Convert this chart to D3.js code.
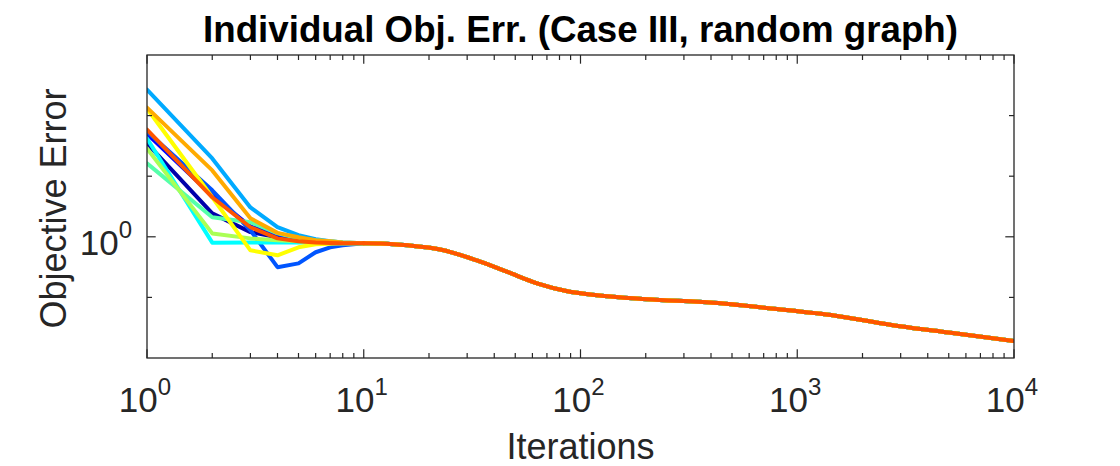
<!DOCTYPE html>
<html>
<head>
<meta charset="utf-8">
<script src="https://cdn.jsdelivr.net/npm/d3@7"></script>
<style>
  html, body { margin: 0; padding: 0; background: #fff; }
  svg { display: block; font-family: "Liberation Sans", Arial, Helvetica, sans-serif; }
</style>
</head>
<body>
<div id="chart"></div>
<script>
// Iterations where the agents still differ, then the shared tail
const headIters = [1, 2, 3, 4, 5, 6, 7, 8, 10];
const tailIters = [10, 12, 16, 22.5, 33, 46, 63, 86, 119, 202, 410, 804, 1500, 2980, 5000, 10000];
const tailErr   = [0.976, 0.975, 0.968, 0.953, 0.915, 0.875, 0.838, 0.814, 0.801, 0.789, 0.778, 0.760, 0.741, 0.712, 0.695, 0.673];

// Per-agent objective error for the first iterations (jet colormap order)
const agent1  = [1.426, 1.093, 1.018, 0.998, 0.987, 0.982, 0.979, 0.977, 0.976];
const agent2  = [1.480, 1.170, 1.040, 1.006, 0.991, 0.982, 0.979, 0.977, 0.976];
const agent3  = [1.492, 1.193, 1.025, 0.891, 0.904, 0.943, 0.961, 0.968, 0.976];
const agent4  = [1.750, 1.347, 1.118, 1.037, 1.006, 0.991, 0.983, 0.979, 0.976];
const agent5  = [1.453, 0.978, 0.979, 0.979, 0.979, 0.979, 0.977, 0.976, 0.976];
const agent6  = [1.322, 1.077, 1.057, 1.013, 0.994, 0.987, 0.983, 0.979, 0.976];
const agent7  = [1.399, 1.013, 0.994, 0.987, 0.983, 0.979, 0.979, 0.976, 0.976];
const agent8  = [1.628, 1.162, 0.950, 0.932, 0.961, 0.972, 0.974, 0.976, 0.976];
const agent9  = [1.634, 1.287, 1.073, 1.015, 0.998, 0.987, 0.983, 0.979, 0.976];
const agent10 = [1.503, 1.162, 1.037, 0.994, 0.983, 0.979, 0.977, 0.976, 0.976];
const agents = [agent1, agent2, agent3, agent4, agent5, agent6, agent7, agent8, agent9, agent10];

const xTickExps = [0, 1, 2, 3, 4];
const yTickExps = [0];
const yMinorExps = [-0.1, 0.1, 0.2];

const palette = ["#0000aa", "#0000ff", "#0055ff", "#00aaff", "#00ffff",
                 "#55ffaa", "#aaff55", "#ffff00", "#ffaa00", "#ff5500"];

const W = 1120, H = 466;
const pLeft = 147, pRight = 1014, pTop = 55, pBottom = 358;
const ink = "#262626";

const svg = d3.select("#chart").append("svg")
    .attr("width", W).attr("height", H);

const x = d3.scaleLog().domain([1, 1e4]).range([pLeft, pRight]);
const y = d3.scaleLog().domain([Math.pow(10, -0.2), Math.pow(10, 0.3)]).range([pBottom, pTop]);

svg.append("defs").append("clipPath").attr("id", "plot-clip")
    .append("rect").attr("x", pLeft).attr("y", pTop)
    .attr("width", pRight - pLeft).attr("height", pBottom - pTop);

// Lines: straight segments between early iterations, smooth tail afterwards
const headLine = d3.line().x(d => x(d[0])).y(d => y(d[1]));
const tailLine = d3.line().x(d => x(d[0])).y(d => y(d[1])).curve(d3.curveMonotoneX);
const tailPts = tailIters.map((it, k) => [it, tailErr[k]]);

const lineG = svg.append("g").attr("clip-path", "url(#plot-clip)")
    .attr("fill", "none").attr("stroke-width", 4)
    .attr("stroke-linejoin", "round").attr("stroke-linecap", "round");
agents.forEach((vals, i) => {
    const pts = headIters.map((it, k) => [it, vals[k]]);
    lineG.append("path").attr("d", headLine(pts)).attr("stroke", palette[i]);
    lineG.append("path").attr("d", tailLine(tailPts)).attr("stroke", palette[i]);
});

// Box
svg.append("rect")
    .attr("x", pLeft).attr("y", pTop)
    .attr("width", pRight - pLeft).attr("height", pBottom - pTop)
    .attr("fill", "none").attr("stroke", ink).attr("stroke-width", 1.3);

// Ticks (mirrored on all sides, MATLAB style)
const majorLen = 8.7, minorLen = 5;
const tickG = svg.append("g").attr("stroke", ink).attr("stroke-width", 1.2);

const xMinor = [];
for (let e = 0; e < 4; e++) for (let m = 2; m <= 9; m++) xMinor.push(m * Math.pow(10, e));

xTickExps.forEach(e => {
    const px = x(Math.pow(10, e));
    tickG.append("line").attr("x1", px).attr("x2", px).attr("y1", pBottom).attr("y2", pBottom - majorLen);
    tickG.append("line").attr("x1", px).attr("x2", px).attr("y1", pTop).attr("y2", pTop + majorLen);
});
xMinor.forEach(v => {
    const px = x(v);
    tickG.append("line").attr("x1", px).attr("x2", px).attr("y1", pBottom).attr("y2", pBottom - minorLen);
    tickG.append("line").attr("x1", px).attr("x2", px).attr("y1", pTop).attr("y2", pTop + minorLen);
});
yTickExps.forEach(e => {
    const py = y(Math.pow(10, e));
    tickG.append("line").attr("x1", pLeft).attr("x2", pLeft + majorLen).attr("y1", py).attr("y2", py);
    tickG.append("line").attr("x1", pRight).attr("x2", pRight - majorLen).attr("y1", py).attr("y2", py);
});
yMinorExps.forEach(e => {
    const py = y(Math.pow(10, e));
    tickG.append("line").attr("x1", pLeft).attr("x2", pLeft + minorLen).attr("y1", py).attr("y2", py);
    tickG.append("line").attr("x1", pRight).attr("x2", pRight - minorLen).attr("y1", py).attr("y2", py);
});

// Tick labels
function powerLabel(g, exp) {
    g.append("tspan").text("10");
    g.append("tspan").attr("dy", -17).style("font-size", "24px").text(exp);
}

xTickExps.forEach(e => {
    const t = svg.append("text")
        .attr("x", x(Math.pow(10, e)) - 2).attr("y", 412)
        .attr("text-anchor", "middle")
        .style("font-size", "35px").attr("fill", ink);
    powerLabel(t, e);
});
yTickExps.forEach(e => {
    const t = svg.append("text")
        .attr("x", 132).attr("y", y(Math.pow(10, e)) + 18)
        .attr("text-anchor", "end")
        .style("font-size", "35px").attr("fill", ink);
    powerLabel(t, e);
});

// Axis labels
svg.append("text")
    .attr("x", (pLeft + pRight) / 2).attr("y", 459)
    .attr("text-anchor", "middle")
    .style("font-size", "36px").attr("fill", ink)
    .text("Iterations");

svg.append("text")
    .attr("transform", `translate(66,${(pTop + pBottom) / 2 + 2}) rotate(-90)`)
    .attr("text-anchor", "middle")
    .style("font-size", "36px").attr("fill", ink)
    .text("Objective Error");

// Title
svg.append("text")
    .attr("x", (pLeft + pRight) / 2).attr("y", 42)
    .attr("text-anchor", "middle")
    .attr("textLength", 755).attr("lengthAdjust", "spacingAndGlyphs")
    .style("font-size", "37px").style("font-weight", "bold").attr("fill", "#000")
    .text("Individual Obj. Err. (Case III, random graph)");
</script>
</body>
</html>
